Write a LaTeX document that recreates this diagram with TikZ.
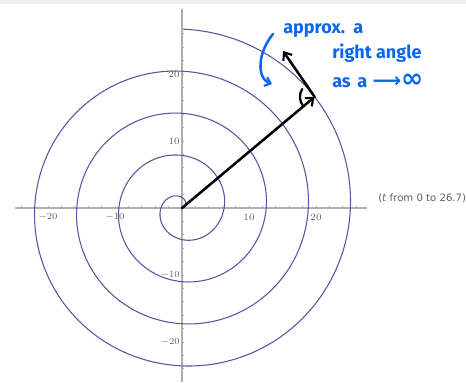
\documentclass[tikz,border=0pt]{standalone}
\usepackage{fontspec}
\newfontfamily\handfont{Fira Sans}
\newfontfamily\symfont{DejaVu Sans}
\newfontfamily\notefont{DejaVu Sans}
\usetikzlibrary{arrows.meta}
\definecolor{spiralc}{RGB}{88,86,160}
\definecolor{axisc}{RGB}{175,175,175}
\definecolor{labc}{RGB}{95,95,95}
\definecolor{handc}{RGB}{12,102,240}
\definecolor{bandc}{RGB}{238,238,238}
\tikzset{
  spiral/.style={draw=spiralc, line width=0.8pt},
  axisline/.style={draw=axisc, line width=0.9pt},
  tickmark/.style={draw=axisc, line width=0.5pt},
  ticklab/.style={text=labc, font=\fontsize{7.3}{8}\selectfont, inner sep=0pt},
  inkline/.style={draw=black, line width=1.9pt, line cap=round, line join=round},
  inktip/.style={-{Straight Barb[length=5pt,width=8pt,line width=1.6pt]}},
  bluetext/.style={text=handc, font=\handfont\bfseries\fontsize{13.5}{15}\selectfont, inner sep=0pt, anchor=base west},
  bluepen/.style={draw=handc, line width=1.9pt, line cap=round, line join=round}
}
\begin{document}
\begin{tikzpicture}[x=0.75pt,y=-0.75pt]
\useasboundingbox (0,0) rectangle (466,382);
\fill[bandc] (0,0) rectangle (466,4);
% axes
\coordinate (O) at (182,208);
\coordinate (xl) at (15,208);
\coordinate (xr) at (367,208);
\coordinate (yt) at (182,9);
\coordinate (yb) at (182,382);
\draw[axisline] (xl) -- (xr);
\draw[axisline] (yt) -- (yb);
\begin{scope}[shift={(O)}, x=5.025pt, y=5.025pt]
  % ticks
  \foreach \k in {-24,-22,...,26} {
    \ifnum\k=0\else
      \draw[tickmark] (\k,0) -- (\k,0.3);
      \draw[tickmark] (0,\k) -- (0.3,\k);
    \fi
  }
  % spiral r = t
  \draw[spiral] plot[domain=0:26.7, samples=700, smooth, variable=\t]
    ({\t*cos(\t r)},{\t*sin(\t r)});
  \coordinate (P) at ({25.83*cos(25.83 r)},{25.83*sin(25.83 r)});
  % tick labels
  \node[ticklab] (lxm20) at (-20,-1.35) {$-20$};
  \node[ticklab] (lxm10) at (-10,-1.35) {$-10$};
  \node[ticklab] (lx10) at (10,-1.35) {10};
  \node[ticklab] (lx20) at (20,-1.35) {20};
  \node[ticklab, anchor=east] (ly20) at (-0.3,20) {20};
  \node[ticklab, anchor=east] (ly10) at (-0.3,10) {10};
  \node[ticklab, anchor=east] (lym10) at (-0.3,-10) {$-10$};
  \node[ticklab, anchor=east] (lym20) at (-0.3,-20) {$-20$};
  % angle mark
  \draw[inkline, line width=1.7pt] ([shift={(148:2.2)}]P) arc[start angle=148, end angle=215, radius=2.2];
\end{scope}
% range note
\node[text=labc, font=\notefont\fontsize{7.6}{8}\selectfont, anchor=west, inner sep=0pt] (note) at (378,198) {(\textit{t} from 0 to 26.7)};
% radial and tangent arrows
\coordinate (T) at (283,51);
\draw[inkline, inktip] (O) -- (P);
\draw[inkline, inktip] (P) -- (T);
% handwritten note
\node[bluetext] (l1) at (283,33) {approx.\hspace{6pt}a};
\node[bluetext] (l2) at (332,58) {right angle};
\node[bluetext] (l3) at (332,87) {as\hspace{5pt}a\hspace{4pt}{\symfont\fontsize{15}{16}\selectfont ⟶}{\symfont\bfseries\fontsize{20}{20}\selectfont ∞}};
\coordinate (c1) at (273,34);
\coordinate (c2) at (272,84);
\draw[bluepen, -{Straight Barb[length=4pt,width=7pt,line width=1.6pt]}] (c1) .. controls (258,52) and (256,78) .. (c2);
\end{tikzpicture}
\end{document}
